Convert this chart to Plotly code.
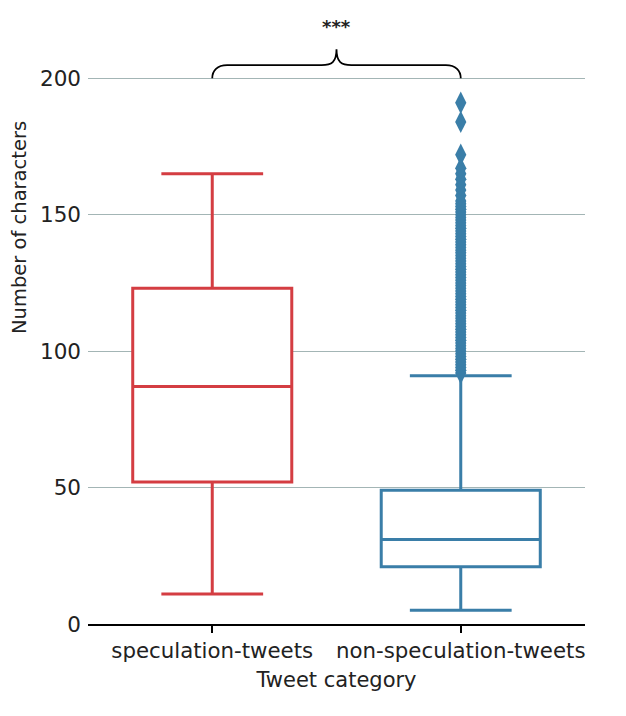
import plotly.graph_objects as go

# ---- data ----
categories = ["speculation-tweets", "non-speculation-tweets"]
lower_fence = [11, 5]
q1 = [52, 21]
median = [87, 31]
q3 = [123, 49]
upper_fence = [165, 91]
colors = ["#d43d42", "#3a7ea8"]

# outliers of non-speculation-tweets (integer character counts)
outliers_nonspec = [92, 93, 94, 95, 96, 97, 98, 99, 100, 101, 102, 103, 104, 105,
                    106, 107, 108, 109, 110, 111, 112, 113, 114, 115, 116, 117, 118,
                    119, 120, 121, 122, 123, 124, 125, 126, 127, 128, 129, 130, 131,
                    132, 133, 134, 135, 136, 137, 138, 139, 140, 141, 142, 143, 144,
                    145, 146, 147, 148, 149, 150, 151, 152, 153, 154, 155, 157, 159,
                    161, 163, 165, 167, 172, 184, 191]

y_ticks = [0, 50, 100, 150, 200]
FONT = "DejaVu Sans"

fig = go.Figure()
for i, cat in enumerate(categories):
    fig.add_trace(go.Box(
        x=[i], q1=[q1[i]], median=[median[i]], q3=[q3[i]],
        lowerfence=[lower_fence[i]], upperfence=[upper_fence[i]],
        width=0.64, whiskerwidth=0.64,
        fillcolor="white", line=dict(color=colors[i], width=3),
        boxpoints=False, name=cat, showlegend=False, hoverinfo="skip",
    ))

fig.add_trace(go.Scatter(
    x=[1] * len(outliers_nonspec), y=outliers_nonspec, mode="markers",
    marker=dict(symbol="diamond-tall", size=16, color=colors[1], line=dict(width=0)),
    showlegend=False, hoverinfo="skip",
))

# significance brace between the two categories
yb, yh, yp = 200, 204.8, 210.6
brace = (f"M 0,{yb} C 0,{yh-2} 0.02,{yh} 0.06,{yh} L 0.44,{yh} "
         f"C 0.48,{yh} 0.5,{yh+1} 0.5,{yp} C 0.5,{yh+1} 0.52,{yh} 0.56,{yh} "
         f"L 0.94,{yh} C 0.98,{yh} 1,{yh-2} 1,{yb}")
fig.add_shape(type="path", path=brace, xref="x", yref="y",
              line=dict(color="black", width=1.8))
fig.add_annotation(x=0.5, y=219, xref="x", yref="y", text="<b>***</b>",
                   showarrow=False, font=dict(family=FONT, size=18, color="#222"))

# y-axis title (placed like the reference, above the axis centre)
fig.add_annotation(x=0, y=0.645, xref="paper", yref="paper", xshift=-68,
                   text="Number of characters", textangle=-90, showarrow=False,
                   xanchor="center", yanchor="middle",
                   font=dict(family=FONT, size=19.5, color="#222"))

fig.update_layout(
    width=626, height=716,
    margin=dict(l=80, r=49, t=2, b=100),
    paper_bgcolor="white", plot_bgcolor="white",
    font=dict(family=FONT, size=20, color="#222"),
    xaxis=dict(
        range=[-0.5, 1.5], tickmode="array", tickvals=list(range(len(categories))),
        ticktext=categories, showgrid=False, zeroline=False,
        showline=True, linecolor="black", linewidth=1.5,
        ticks="outside", ticklen=7, tickwidth=1.5, tickcolor="black",
        title=dict(text="Tweet category", font=dict(size=21), standoff=10),
        tickfont=dict(size=21.3),
    ),
    yaxis=dict(
        range=[0, 225], tickmode="array", tickvals=y_ticks,
        showgrid=True, gridcolor="#a3b5b5", gridwidth=1.3, zeroline=False,
        showline=False, ticks="", ticklabelstandoff=6,
        tickfont=dict(size=21.5),
    ),
)

fig.write_html("out.html")
